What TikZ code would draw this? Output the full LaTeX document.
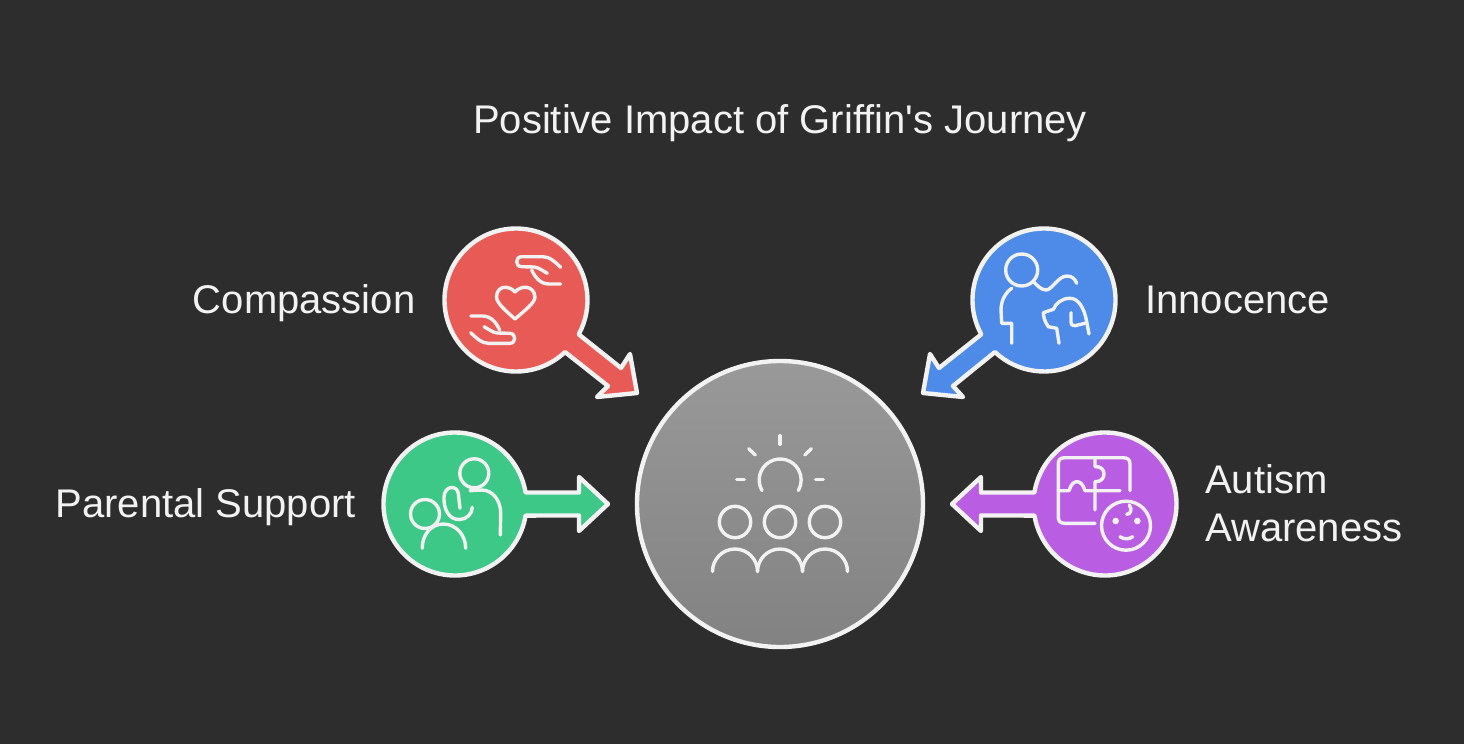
\documentclass[tikz,border=0pt]{standalone}
\usepackage{fontspec}
\setmainfont{Liberation Sans}
\definecolor{darkbg}{HTML}{2D2D2D}
\definecolor{lineclr}{HTML}{F2F2F2}
\definecolor{redclr}{HTML}{E85A55}
\definecolor{blueclr}{HTML}{4E8AE8}
\definecolor{greenclr}{HTML}{3EC888}
\definecolor{purpleclr}{HTML}{B95EE3}
\tikzset{
  bubble/.style={draw=lineclr, line width=4.4pt, line join=round},
  icon/.style={draw=lineclr, line width=3.4pt, line cap=round, line join=round},
  label/.style={text=lineclr, inner sep=0pt, font=\fontsize{40}{48}\selectfont},
}
\begin{document}
\begin{tikzpicture}[x=1pt,y=-1pt]
            % Fondo
            \fill[darkbg] (0,0) rectangle (1464,744);
            \useasboundingbox (0,0) rectangle (1464,744);
            % Centros
            \coordinate (compassion) at (516,300);
            \coordinate (innocence) at (1044,300);
            \coordinate (support) at (455,504);
            \coordinate (autism) at (1105,504);
            % Circulo central
            \node[circle, minimum size=286pt, inner sep=0pt, draw=lineclr, line width=4.4pt, top color=black!40!white, bottom color=black!49!white, shading angle=0] (hub) at (780,504) {};
            % Burbujas con flecha
            \draw[bubble, fill=redclr] (compassion) ++(46.7:71.5) arc[start angle=46.7, end angle=388.7, radius=71.5] -- (621,368) -- (630,354) -- (637,393) -- (597,397) -- (608,386) -- cycle;
            \draw[bubble, fill=blueclr] (innocence) ++(151.3:71.5) arc[start angle=151.3, end angle=493.3, radius=71.5] -- (953,386) -- (963,397) -- (923,393) -- (930,354) -- (939,368) -- cycle;
            \draw[bubble, fill=greenclr] (support) ++(9.3:71.5) arc[start angle=9.3, end angle=350.7, radius=71.5] -- (579,492.5) -- (579,477) -- (608,504) -- (579,531) -- (579,515.5) -- cycle;
            \draw[bubble, fill=purpleclr] (autism) ++(189.3:71.5) arc[start angle=189.3, end angle=530.7, radius=71.5] -- (981,515.5) -- (981,531) -- (952,504) -- (981,477) -- (981,492.5) -- cycle;
            % Textos
            \node[label, anchor=base] (title) at (780,133.5) {Positive Impact of Griffin\textquotesingle s Journey};
            \node[label, anchor=base east] (compassionlabel) at (415.5,313.5) {Compassion};
            \node[label, anchor=base west] (innocencelabel) at (1145,313.5) {Innocence};
            \node[label, anchor=base east] (supportlabel) at (356,517.5) {Parental Support};
            \node[label, anchor=base west, align=left] (autismlabel) at (1205,541.5) {Autism\\Awareness};
            % Manos y corazon
            \draw[icon] (515,292) .. controls (509,285) and (497,285) .. (496.5,297) .. controls (496.5,303) and (506,311) .. (515,319) .. controls (524,311) and (535,303) .. (535,297) .. controls (534,285) and (521,285) .. (515,292) -- cycle;
            \foreach \a in {0,180} {
              \begin{scope}[rotate around={\a:(515.7,300)}]
                \draw[icon] (560.7,267.3) .. controls (555,262) and (550,256.7) .. (543,256.7) -- (521.7,256.7) .. controls (515,256.7) and (515,266.7) .. (521.7,266.7) -- (534,267) .. controls (539,267.5) and (543,271) .. (547.3,273.3);
                \draw[icon] (531.7,270) .. controls (535,277) and (540,284) .. (549,284) -- (560.7,284);
              \end{scope}
            }
            % Persona y perro
            \draw[icon] (1021.7,270) circle (16);
            \draw[icon] (1011.7,288.3) .. controls (1005,293) and (1001,301) .. (1001,310) -- (1001.7,323.3) -- (1011.7,323.3) -- (1011.7,343.3);
            \draw[icon] (1033.3,281.7) .. controls (1037,285) and (1041,290) .. (1046,290) .. controls (1052,290) and (1058,276) .. (1067,276) .. controls (1072,276) and (1075,279) .. (1076.7,283.3);
            \draw[icon] (1059,343.3) -- (1056.7,328.3) -- (1048.3,326.7) .. controls (1045,322) and (1043.3,317) .. (1043.3,312.7) -- (1053.3,309.3) .. controls (1056,303) and (1062,298.3) .. (1070,298.3) .. controls (1078,298.3) and (1084,307) .. (1086.7,321.7) -- (1089,334);
            \draw[icon] (1071,312.7) -- (1071,321.7) .. controls (1071,325) and (1073,326) .. (1075,325.7) -- (1085,323.3);
            % Adulto y nino
            \draw[icon] (474.3,473.3) circle (14.5);
            \draw[icon] (470,490.7) -- (481.7,490) .. controls (493,490) and (500.7,501) .. (500.7,513) -- (500.3,535);
            \draw[icon] (425,514) circle (14.5);
            \draw[icon] (422.3,548.3) .. controls (422,535) and (431,524) .. (443.3,524) .. controls (456,524) and (465.7,535) .. (465.7,548.3);
            \draw[icon] (460,508.3) -- (458.3,493.3) .. controls (457,485) and (445,485) .. (444,496.7) .. controls (443.5,508) and (448,520) .. (460,519.5) .. controls (467,519) and (472,514) .. (472.3,507.3);
            % Rompecabezas y bebe
            \draw[icon] (1095,523.3) -- (1065,523.3) .. controls (1060,523.3) and (1058.3,521) .. (1058.3,517) -- (1058.3,464) .. controls (1058.3,460) and (1060,457.7) .. (1065,457.7) -- (1123,457.7) .. controls (1128,457.7) and (1130,460) .. (1130,464) -- (1130,490.7);
            \draw[icon] (1058.3,490.7) -- (1069,490.7) .. controls (1071,484) and (1074,481.7) .. (1077,481.7) .. controls (1080,481.7) and (1083,484) .. (1085,490.7) -- (1120,490.7);
            \draw[icon] (1095,457.7) -- (1095,466.7) .. controls (1101,466) and (1104,470) .. (1104,474) .. controls (1104,478) and (1101,482) .. (1095,481.7) -- (1095,510);
            \draw[icon] (1126,525.7) circle (24.5);
            \fill[lineclr] (1115.7,521) circle (3.3) (1137.3,521) circle (3.3);
            \draw[icon] (1120,536.7) .. controls (1124,539.5) and (1129,539.5) .. (1132.7,536.7);
            \draw[icon] (1126.7,514.3) .. controls (1130,514.5) and (1133,510) .. (1129.3,505);
            % Sol y grupo
            \draw[icon] (762,490.5) arc[start angle=150, end angle=390, radius=21];
            \draw[icon] (780,435.7) -- (780,444.3);
            \draw[icon] (748.7,448.7) -- (755.3,455);
            \draw[icon] (804.7,455) -- (811.3,448.7);
            \draw[icon] (736.7,479.7) -- (744.3,479.7);
            \draw[icon] (815.7,479.7) -- (823.3,479.7);
            \foreach \x in {735,780,825} {
              \draw[icon] (\x,522) circle (15.7);
              \draw[icon] (\x-22.5,571.5) arc[start angle=180, end angle=360, radius=22.5];
            }
\end{tikzpicture}
\end{document}
